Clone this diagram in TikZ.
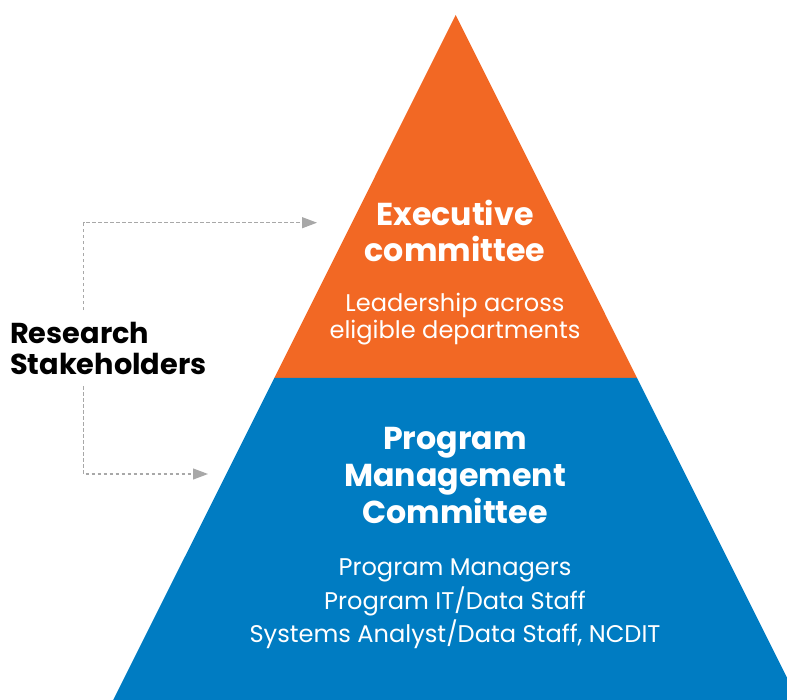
\documentclass[tikz,border=0pt]{standalone}
\usepackage{fontspec}
\setmainfont{Poppins}
\usetikzlibrary{arrows.meta}
\definecolor{orng}{HTML}{F26824}
\definecolor{blu}{HTML}{007CC2}
\definecolor{arrgray}{HTML}{A8A8A8}
\tikzset{
  head/.style={text=white,font=\fontsize{31.8}{31.8}\selectfont\bfseries,anchor=base,inner sep=0pt},
  sub/.style={text=white,font=\fontsize{24.2}{24.2}\selectfont,anchor=base,inner sep=0pt},
  side/.style={text=black,font=\fontsize{28.9}{28.9}\selectfont\bfseries,anchor=base west,inner sep=0pt},
  link/.style={draw=arrgray,line width=1.2bp,dash pattern=on 3.5bp off 2.5bp,-{Triangle[length=15bp,width=11bp]}}
}
\begin{document}
\begin{tikzpicture}[x=1bp,y=-1bp]
\useasboundingbox (0,0) rectangle (787,700);
\begin{scope}
\clip (0,0) rectangle (787,700);
\fill[orng] (455.7,15) -- (637,377.8) -- (274.4,377.8) -- cycle;
\fill[blu] (274.4,377.8) -- (637,377.8) -- (798.2,700) -- (113.2,700) -- cycle;
\end{scope}
\node[head] (e1) at (455,225) {Executive};
\node[head] (e2) at (455,261.5) {committee};
\node[sub] (e3) at (455,311.5) {Leadership across};
\node[sub] (e4) at (455,338.5) {eligible departments};
\node[head] (p1) at (455,449.3) {Program};
\node[head] (p2) at (455,486.5) {Management};
\node[head] (p3) at (455,523.3) {Committee};
\node[sub] (p4) at (455,575) {Program Managers};
\node[sub] (p5) at (455,609.3) {Program IT/Data Staff};
\node[sub] (p6) at (455,642.7) {Systems Analyst/Data Staff, NCDIT};
\node[side] (rs1) at (10,343.3) {Research};
\node[side] (rs2) at (10,374) {Stakeholders};
\coordinate (topstart) at (83.5,310);
\coordinate (toptip) at (317,222.7);
\coordinate (botstart) at (83.5,386);
\coordinate (bottip) at (208,474);
\draw[link] (topstart) |- (toptip);
\draw[link] (botstart) |- (bottip);
\end{tikzpicture}
\end{document}
